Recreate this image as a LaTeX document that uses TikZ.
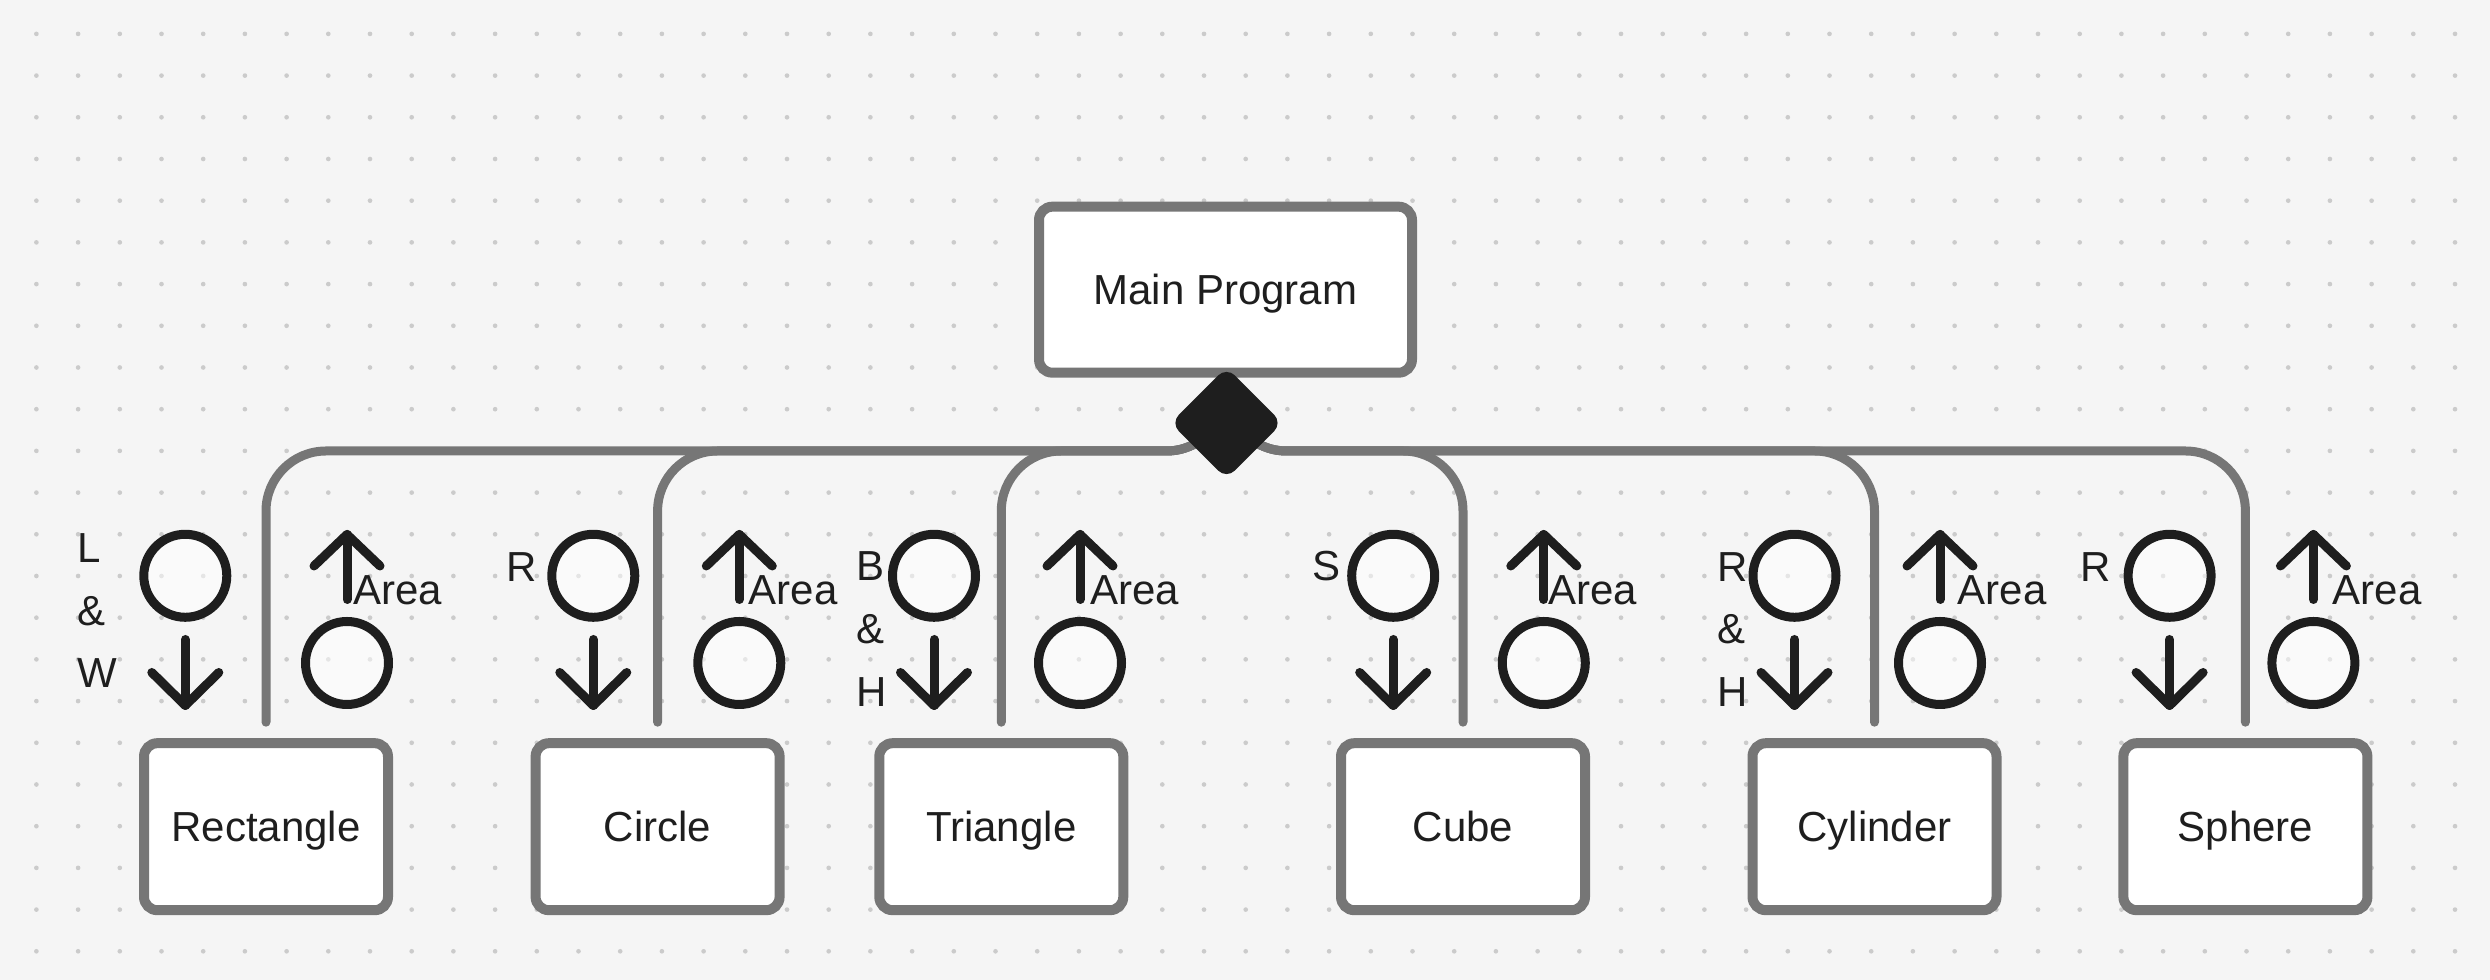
\documentclass[tikz,border=0pt]{standalone}
\usepackage{fontspec}
\setmainfont{Liberation Sans}
\usetikzlibrary{shapes.geometric,calc}
\definecolor{bg}{HTML}{F5F5F5}
\definecolor{dotc}{HTML}{CBCBCB}
\definecolor{linec}{HTML}{767676}
\definecolor{ink}{HTML}{1E1E1E}
\pgfdeclarelayer{backl}
\pgfdeclarelayer{connl}
\pgfsetlayers{backl,connl,main}
\begin{document}
\begin{tikzpicture}[x=0.3pt,y=-0.3pt,
  txt/.style={font=\fontsize{12.6}{15}\selectfont, text=ink},
  box/.style={txt, draw=linec, line width=3pt, fill=white, rounded corners=4pt,
    minimum width=73.2pt, minimum height=50.1pt, inner sep=0pt,
    text height=9pt, text depth=0pt},
  mainbox/.style={box, minimum width=111.9pt, minimum height=49.8pt},
  dia/.style={diamond, draw=ink, fill=ink, line width=2pt, rounded corners=2.5pt,
    minimum width=31.5pt, minimum height=31.5pt, inner sep=0pt},
  conn/.style={draw=linec, line width=2.7pt, rounded corners=18pt, line cap=round},
  sym/.style={draw=ink, line width=2.7pt, line cap=round, line join=round},
  ring/.style={circle, draw=ink, line width=2.7pt, minimum size=24.9pt, inner sep=0pt,
    fill=white, fill opacity=0.5},
  lab/.style={txt, anchor=base west, inner sep=0pt}
]
\begin{pgfonlayer}{backl}
\fill[bg] (0,0) rectangle (2490,980);
\foreach \i in {0,...,58}{
  \foreach \j in {0,...,22}{
    \fill[dotc] ({36.4+41.7*\i},{33.9+41.7*\j}) circle (0.7pt);
  }
}
\end{pgfonlayer}
\useasboundingbox (0,0) rectangle (2490,980);
% boxes
\node[mainbox] (main) at (1225.5,289.7) {Main Program};
\node[box] (rect) at (266,826.7) {Rectangle};
\node[box] (circ) at (657.6,826.7) {Circle};
\node[box] (tri) at (1001.3,826.7) {Triangle};
\node[box] (cube) at (1463,826.7) {Cube};
\node[box] (cyl) at (1874.5,826.7) {Cylinder};
\node[box] (sph) at (2245.4,826.7) {Sphere};
\node[dia] (dia) at (1226.5,423) {};
\coordinate (bus) at (1226.5,451);
% connectors
\begin{pgfonlayer}{connl}
\foreach \n in {rect,circ,tri,cube,cyl,sph}{
  \coordinate (e-\n) at ([yshift=4.8pt]\n.north);
  \draw[conn] (dia.north) -- (bus) -| (e-\n);
}
\end{pgfonlayer}
% symbols
\foreach \n/\i/\o/\a in {rect/185.3/347/353.6, circ/593.3/739.3/749, tri/934/1080/1090.5,
    cube/1393.2/1543.8/1548.6, cyl/1794.5/1940/1958, sph/2169.6/2313.4/2333}{
  \node[ring] (in-\n) at (\i,575.8) {};
  \node[ring] (out-\n) at (\o,663) {};
  \draw[sym] (\i,639.5) -- (\i,705.5);
  \draw[sym] ({\i-33.5},672.5) -- (\i,705.5) -- ({\i+33.5},672.5);
  \draw[sym] (\o,599.5) -- (\o,534.5);
  \draw[sym] ({\o-33},566) -- (\o,534.5) -- ({\o+33},566);
  \node[lab] (area-\n) at ({\a-1},605) {Area};
}
% input labels
\node[lab] (l1) at (77,563) {L};
\node[lab] (l2) at (77,626) {\&};
\node[lab] (l3) at (77,688) {W};
\node[lab] (c1) at (506,582) {R};
\node[lab] (t1) at (856,581) {B};
\node[lab] (t2) at (856,644) {\&};
\node[lab] (t3) at (856,707) {H};
\node[lab] (s1) at (1312,581) {S};
\node[lab] (y1) at (1717,582) {R};
\node[lab] (y2) at (1717,644) {\&};
\node[lab] (y3) at (1717,707) {H};
\node[lab] (p1) at (2080,582) {R};
\end{tikzpicture}
\end{document}
